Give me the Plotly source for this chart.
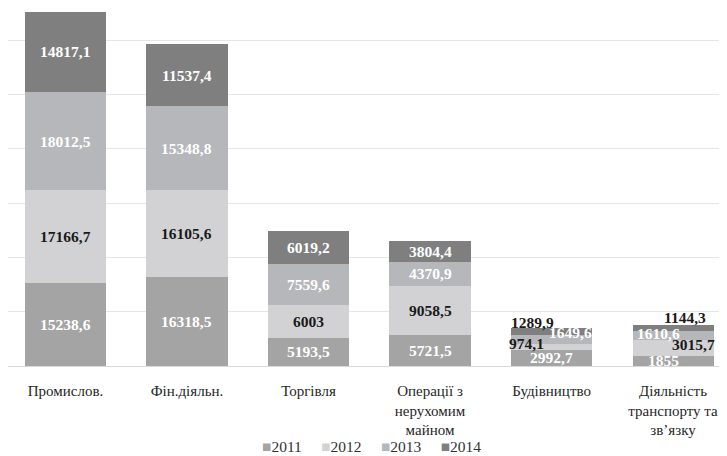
import plotly.graph_objects as go

categories = ["Промислов.", "Фін.діяльн.", "Торгівля", "Операції з<br>нерухомим<br>майном",
              "Будівництво", "Діяльність<br>транспорту та<br>зв’язку"]
years = ["2011", "2012", "2013", "2014"]
v2011 = [15238.6, 16318.5, 5193.5, 5721.5, 2992.7, 1855]
v2012 = [17166.7, 16105.6, 6003, 9058.5, 974.1, 3015.7]
v2013 = [18012.5, 15348.8, 7559.6, 4370.9, 1649.6, 1610.6]
v2014 = [14817.1, 11537.4, 6019.2, 3804.4, 1289.9, 1144.3]
series = [v2011, v2012, v2013, v2014]

SERIF = "Liberation Serif, DejaVu Serif, serif"
colors = ["#a4a4a4", "#d2d2d4", "#b6b7ba", "#7f7f7f"]
text_colors = ["white", "#1a1a1a", "white", "white"]
# label nudges (xshift, yshift, color override) for the crowded small bars
nudges = {
    (4, 1): (-25, 4, None), (4, 2): (19, 7, None), (4, 3): (-19, 9, "#1a1a1a"),
    (5, 0): (-10, 0, None), (5, 1): (20, 3, None), (5, 2): (-15, 2, None), (5, 3): (12, 10, "#1a1a1a"),
}

def fmt(v):
    return f"{v:g}".replace(".", ",")

fig = go.Figure()
for i, (yr, vals) in enumerate(zip(years, series)):
    fig.add_trace(go.Bar(x=categories, y=vals, name=yr, marker=dict(color=colors[i], line=dict(width=0)),
                         hoverinfo="skip", showlegend=False))

annotations = []
for j, cat in enumerate(categories):
    cum = 0
    for i, vals in enumerate(series):
        v = vals[j]
        mid = cum + v / 2
        cum += v
        xs, ys, col = nudges.get((j, i), (0, 0, None))
        annotations.append(dict(x=cat, y=mid, text="<b>" + fmt(v) + "</b>", showarrow=False,
                                xshift=xs, yshift=ys,
                                font=dict(family=SERIF, size=15.5,
                                          color=col if col else text_colors[i])))

# legend drawn as a single centred text line with coloured squares
legend_text = "&nbsp;&nbsp;&nbsp;&nbsp;&nbsp;".join(
    f"<span style='color:{c}'>■</span>{y}" for c, y in zip(colors, years))
annotations.append(dict(xref="paper", yref="paper", x=0.505, y=-0.226, xanchor="center", yanchor="middle",
                        text=legend_text, showarrow=False,
                        font=dict(family=SERIF, size=15.5, color="#333333")))

# the page adds an 8px body margin, so the figure is sized to fit the remaining window
fig.update_layout(
    barmode="stack", bargap=0.333,
    width=719, height=448,
    margin=dict(l=0, r=0, t=0, b=90),
    paper_bgcolor="white", plot_bgcolor="white",
    annotations=annotations,
    font=dict(family=SERIF, size=15, color="#222222"),
)
fig.update_xaxes(range=[-0.473, 5.444], showgrid=False, showline=False, ticks="", ticklabelstandoff=14,
                 automargin=False, tickfont=dict(family=SERIF, size=15, color="#262626"))
fig.update_yaxes(range=[0, 65890], dtick=10000, showgrid=True, gridcolor="#e6e6e6", gridwidth=1,
                 showticklabels=False, zeroline=True, zerolinecolor="#d9d9d9", zerolinewidth=1,
                 automargin=False)

fig.write_html("out.html")
